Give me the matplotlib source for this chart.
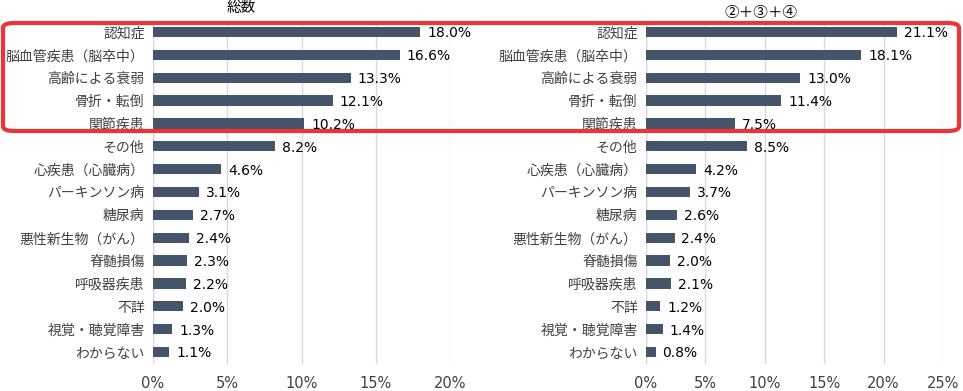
import matplotlib.pyplot as plt
from matplotlib.patches import FancyBboxPatch
import numpy as np

plt.rcParams['font.family'] = ['Noto Sans CJK JP', 'DejaVu Sans']

categories = ['認知症', '脳血管疾患（脳卒中）', '高齢による衰弱', '骨折・転倒', '関節疾患',
              'その他', '心疾患（心臓病）', 'パーキンソン病', '糖尿病', '悪性新生物（がん）',
              '脊髄損傷', '呼吸器疾患', '不詳', '視覚・聴覚障害', 'わからない']
total = [18.0, 16.6, 13.3, 12.1, 10.2, 8.2, 4.6, 3.1, 2.7, 2.4, 2.3, 2.2, 2.0, 1.3, 1.1]
group234 = [21.1, 18.1, 13.0, 11.4, 7.5, 8.5, 4.2, 3.7, 2.6, 2.4, 2.0, 2.1, 1.2, 1.4, 0.8]

bar_color = '#44546A'
W, H = 963, 391

fig = plt.figure(figsize=(W / 100, H / 100), dpi=100)

def px_axes(x0, x1, y0, y1):
    return fig.add_axes([x0 / W, 1 - y1 / H, (x1 - x0) / W, (y1 - y0) / H])

def draw(ax, vals, xmax, title, title_y):
    y = np.arange(len(categories))
    ax.barh(y, vals, height=0.45, color=bar_color, zorder=3)
    ax.set_ylim(len(categories) - 0.5, -0.5)
    ax.set_xlim(0, xmax)
    ax.set_xticks(np.arange(0, xmax + 1, 5))
    ax.set_xticklabels([f'{t}%' for t in range(0, xmax + 1, 5)], fontsize=10.5,
                       color='#404040', family='DejaVu Sans')
    ax.set_yticks(y)
    ax.set_yticklabels(categories, fontsize=10, color='#404040')
    ax.tick_params(axis='both', length=0)
    ax.tick_params(axis='x', pad=9)
    ax.tick_params(axis='y', pad=6)
    ax.grid(axis='x', color='#d9d9d9', linewidth=1, zorder=0)
    for s in ax.spines.values():
        s.set_visible(False)
    ax.axvline(0, color='#d9d9d9', linewidth=1, zorder=1)
    for yi, v in zip(y, vals):
        ax.annotate(f'{v:.1f}%', (v, yi), xytext=(5, -1), textcoords='offset points',
                    va='center', ha='left', fontsize=10, color='#000000',
                    family='DejaVu Sans', annotation_clip=False)
    fig.text(title_y[0] / W, 1 - title_y[1] / H, title, ha='center', va='center',
             fontsize=10.5, color='#000000')

ax1 = px_axes(153, 450, 20.5, 363.5)
draw(ax1, total, 20, '総数', (241, 8))

ax2 = px_axes(646, 943, 20.5, 363.5)
draw(ax2, group234, 25, '②＋③＋④', (761, 13))

rect = FancyBboxPatch((3 / W, 1 - 131 / H), (956 / W), (108 / H),
                      boxstyle='round,pad=0,rounding_size=0.012',
                      transform=fig.transFigure, fill=False,
                      edgecolor='#EE3338', linewidth=3, zorder=10)
fig.patches.append(rect)

fig.savefig('out.png', dpi=100)
